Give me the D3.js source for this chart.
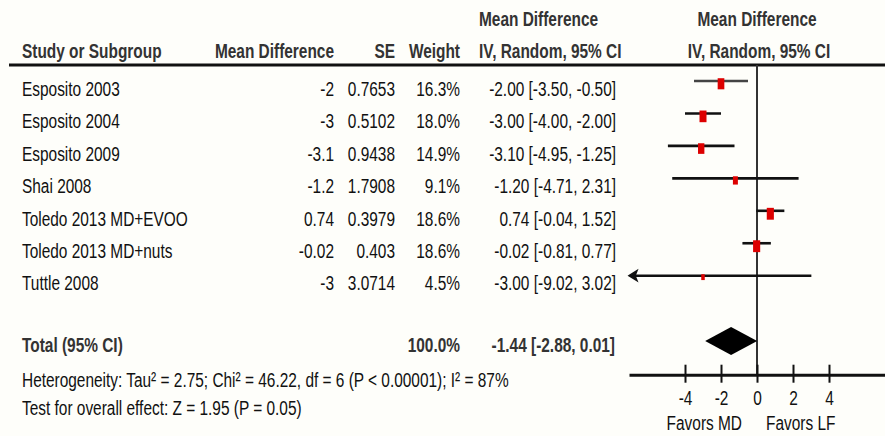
<!DOCTYPE html>
<html>
<head>
<meta charset="utf-8">
<script src="https://cdn.jsdelivr.net/npm/d3@7"></script>
<style>
  body { margin: 0; background: #fefefa; }
  svg { display: block; }
  text { font-family: "Liberation Sans", Arial, sans-serif; font-size: 21px; fill: #111; }
  .bold { font-weight: bold; fill: #333; }
</style>
</head>
<body>
<div id="forest"></div>
<script>
// study data
var studies = ["Esposito 2003", "Esposito 2004", "Esposito 2009", "Shai 2008",
               "Toledo 2013 MD+EVOO", "Toledo 2013 MD+nuts", "Tuttle 2008"];
var meanDiff = [-2, -3, -3.1, -1.2, 0.74, -0.02, -3];
var stdErr = ["0.7653", "0.5102", "0.9438", "1.7908", "0.3979", "0.403", "3.0714"];
var weights = [16.3, 18.0, 14.9, 9.1, 18.6, 18.6, 4.5];
var ciLow = [-3.50, -4.00, -4.95, -4.71, -0.04, -0.81, -9.02];
var ciHigh = [-0.50, -2.00, -1.25, 2.31, 1.52, 0.77, 3.02];

// pooled result
var totalMd = -1.44, totalLow = -2.88, totalHigh = 0.01;
var heterogeneity = "Heterogeneity: Tau² = 2.75; Chi² = 46.22, df = 6 (P < 0.00001); I² = 87%";
var overallTest = "Test for overall effect: Z = 1.95 (P = 0.05)";
var tickValues = [-4, -2, 0, 2, 4];

var svgWidth = 885, svgHeight = 436;
var SX = 0.735; // text is horizontally squeezed in the picture

var svg = d3.select("#forest").append("svg")
    .attr("width", svgWidth)
    .attr("height", svgHeight);

function txt(x, y, s, anchor, bold) {
    return svg.append("text")
        .attr("transform", `translate(${x},${y}) scale(${SX},1)`)
        .attr("text-anchor", anchor || "start")
        .attr("class", bold ? "bold" : null)
        .text(s);
}

var xScale = d3.scaleLinear()
    .domain([-128 / 18, 128 / 18])
    .range([629, 885]);

var rowLine = d => 81 + 32.45 * d;
var rowText = d => 95.7 + 32.45 * d;
var fmt = d => d.toFixed(2);

// headers
txt(479, 26, "Mean Difference", "start", true);
txt(757, 26, "Mean Difference", "middle", true);
txt(22, 58, "Study or Subgroup", "start", true);
txt(334, 58, "Mean Difference", "end", true);
txt(395, 58, "SE", "end", true);
txt(460, 58, "Weight", "end", true);
txt(479, 58, "IV, Random, 95% CI", "start", true);
txt(759, 58, "IV, Random, 95% CI", "middle", true);

svg.append("line")
    .attr("x1", 9).attr("x2", svgWidth)
    .attr("y1", 65).attr("y2", 65)
    .attr("stroke", "#111").attr("stroke-width", 3);

// zero line
svg.append("line")
    .attr("x1", xScale(0)).attr("x2", xScale(0))
    .attr("y1", 65).attr("y2", 375)
    .attr("stroke", "#333").attr("stroke-width", 2);

// table rows
studies.forEach(function(s, i) {
    var y = rowText(i);
    txt(22, y, s, "start");
    txt(334, y, String(meanDiff[i]), "end");
    txt(395, y, stdErr[i], "end");
    txt(460, y, weights[i].toFixed(1) + "%", "end");
    txt(616, y, `${fmt(meanDiff[i])} [${fmt(ciLow[i])}, ${fmt(ciHigh[i])}]`, "end");
});

// confidence intervals
var xMin = xScale.domain()[0];
studies.forEach(function(s, i) {
    var y = rowLine(i);
    var lo = Math.max(ciLow[i], xMin);
    var x1 = xScale(lo);
    svg.append("line")
        .attr("x1", ciLow[i] < xMin ? x1 + 4 : x1)
        .attr("x2", xScale(ciHigh[i]))
        .attr("y1", y).attr("y2", y)
        .attr("stroke", i === 0 ? "#444" : "#111")
        .attr("stroke-width", 2.6);
    if (ciLow[i] < xMin) {
        svg.append("path")
            .attr("d", `M${x1},${y} L${x1 + 8},${y - 5} L${x1 + 6},${y} L${x1 + 8},${y + 5} Z`)
            .attr("fill", "#111")
            .attr("stroke", "#111")
            .attr("stroke-width", 1.5);
    }
});

// weight squares
svg.selectAll("rect.sq")
    .data(studies)
    .enter()
    .append("rect")
    .attr("class", "sq")
    .each(function(d, i) {
        var h = 2.75 * Math.sqrt(weights[i]);
        var w = 0.6 * h;
        d3.select(this)
            .attr("x", xScale(meanDiff[i]) - w / 2)
            .attr("y", rowLine(i) - h * 0.25)
            .attr("width", w)
            .attr("height", h);
    })
    .attr("fill", "#dd0000");

// total row
txt(22, 352, "Total (95% CI)", "start", true);
txt(460, 352, "100.0%", "end", true);
txt(615, 352, `${fmt(totalMd)} [${fmt(totalLow)}, ${fmt(totalHigh)}]`, "end", true);

var cy = 341;
svg.append("path")
    .attr("d", `M${xScale(totalLow)},${cy} L${xScale(totalMd)},${cy - 14} L${xScale(totalHigh)},${cy} L${xScale(totalMd)},${cy + 14} Z`)
    .attr("fill", "#000");

txt(22, 387, heterogeneity, "start");
txt(22, 414.5, overallTest, "start");

// axis
var axis = svg.append("g")
    .attr("transform", "translate(0,374.7)")
    .call(d3.axisBottom(xScale).tickValues(tickValues).tickSizeOuter(0).tickFormat(d => String(d)));

axis.select(".domain").attr("stroke", "#111").attr("stroke-width", 3);
axis.selectAll(".tick line")
    .attr("y1", -10).attr("y2", 8)
    .attr("stroke", "#111").attr("stroke-width", 2);
axis.selectAll(".tick text")
    .attr("y", 30).attr("dy", 0)
    .attr("transform", `scale(${SX},1)`)
    .attr("fill", "#111")
    .style("font-family", "'Liberation Sans', Arial, sans-serif")
    .style("font-size", "21px");

txt(xScale(0) - 15, 430, "Favors MD", "end");
txt(xScale(0) + 9, 430, "Favors LF", "start");
</script>
</body>
</html>
